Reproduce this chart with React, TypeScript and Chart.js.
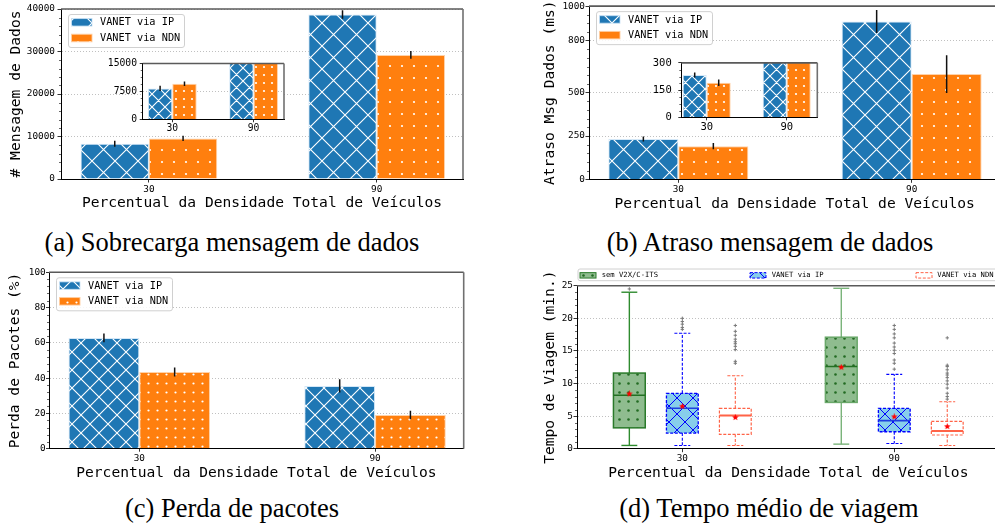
import React, { useEffect, useRef } from 'react';
import { Chart, registerables } from 'chart.js';
Chart.register(...registerables);

const MONO = '"DejaVu Sans Mono", monospace';

// ---------- data ----------
const categories = ['30', '90'];
const seriesNames = ['VANET via IP', 'VANET via NDN'];

// (a) Sobrecarga mensagem de dados
const msgIP = [8300, 38700];
const msgIPErr = [700, 1000];
const msgNDN = [9550, 29200];
const msgNDNErr = [600, 900];
const msgTicks = [0, 10000, 20000, 30000, 40000];
const msgInsetTicks = [0, 7500, 15000];

// (b) Atraso mensagem de dados
const delayIP = [233, 911];
const delayIPErr = [14, 66];
const delayNDN = [191, 608];
const delayNDNErr = [18, 109];
const delayTicks = [0, 250, 500, 800, 1000];
const delayInsetTicks = [0, 150, 300];

// (c) Perda de pacotes
const lossIP = [62.8, 35.6];
const lossIPErr = [2.5, 3.7];
const lossNDN = [43.5, 19.1];
const lossNDNErr = [2.5, 2.4];
const lossTicks = [0, 20, 40, 60, 80, 100];

// (d) Tempo médio de viagem  — [lower whisker, Q1, median, Q3, upper whisker] per category
const tripSeries = ['sem V2X/C-ITS', 'VANET via IP', 'VANET via NDN'];
const tripTicks = [0, 5, 10, 15, 20, 25];
const semBox = [[0.5, 3.2, 8.2, 11.6, 24.0], [0.7, 7.1, 12.6, 17.1, 24.6]];
const ipBox = [[0.5, 2.4, 6.2, 8.5, 17.7], [0.8, 2.6, 4.3, 6.2, 11.4]];
const ndnBox = [[0.5, 2.2, 5.1, 6.2, 11.2], [0.5, 2.1, 2.7, 4.2, 7.2]];
const semMean = [8.4, 12.5];
const ipMean = [6.5, 4.9];
const ndnMean = [4.8, 3.4];
const semOut = [[24.5], []];
const ipOut = [[18.3, 18.6, 19.1, 19.5, 20.0], [12.2, 13.1, 13.6, 14.6, 15.1, 15.6, 16.2, 17.0, 17.6, 18.3, 18.9]];
const ndnOut = [[13.1, 13.4, 15.2, 15.7, 16.1, 16.4, 16.8, 17.4, 18.0, 18.9], [7.6, 8.0, 8.5, 9.3, 9.9, 10.4, 10.9, 11.3, 11.6, 12.1, 12.6, 12.8, 17.0]];

// ---------- helpers ----------
function hatchX(bg: string, fg: string, p: number, lw: number): CanvasPattern {
  const t = document.createElement('canvas');
  t.width = p; t.height = p;
  const c = t.getContext('2d')!;
  c.fillStyle = bg; c.fillRect(0, 0, p, p);
  c.strokeStyle = fg; c.lineWidth = lw;
  c.beginPath();
  for (const dx of [-p, 0, p]) {
    c.moveTo(dx, 0); c.lineTo(dx + p, p);
    c.moveTo(dx + p, 0); c.lineTo(dx, p);
  }
  c.stroke();
  return c.createPattern(t, 'repeat')!;
}

function dotPattern(bg: string, fg: string, s: number, r: number): CanvasPattern {
  const t = document.createElement('canvas');
  t.width = s; t.height = s;
  const c = t.getContext('2d')!;
  c.fillStyle = bg; c.fillRect(0, 0, s, s);
  c.fillStyle = fg;
  c.beginPath(); c.arc(s / 2, s / 2, r, 0, Math.PI * 2); c.fill();
  return c.createPattern(t, 'repeat')!;
}

function starImage(size: number, color: string): HTMLCanvasElement {
  const t = document.createElement('canvas');
  t.width = size; t.height = size;
  const c = t.getContext('2d')!;
  c.fillStyle = color; c.beginPath();
  const cx = size / 2, cy = size / 2, R = size / 2, r = R * 0.45;
  for (let k = 0; k < 10; k++) {
    const a = -Math.PI / 2 + (k * Math.PI) / 5;
    const rad = k % 2 === 0 ? R : r;
    const x = cx + rad * Math.cos(a), y = cy + rad * Math.sin(a);
    if (k) c.lineTo(x, y); else c.moveTo(x, y);
  }
  c.closePath(); c.fill();
  return t;
}

function roundRectPath(c: CanvasRenderingContext2D, x: number, y: number, w: number, h: number, r: number) {
  c.beginPath();
  c.moveTo(x + r, y); c.lineTo(x + w - r, y); c.quadraticCurveTo(x + w, y, x + w, y + r);
  c.lineTo(x + w, y + h - r); c.quadraticCurveTo(x + w, y + h, x + w - r, y + h);
  c.lineTo(x + r, y + h); c.quadraticCurveTo(x, y + h, x, y + h - r);
  c.lineTo(x, y + r); c.quadraticCurveTo(x, y, x + r, y); c.closePath();
}

interface AxisSpec {
  xMin: number; xMax: number; yMax: number; yTicks: number[]; minor: number;
  yAxisW: number; xAxisH: number; padTop: number; padRight: number;
  tickSize: number; tickLen: number; yTickPad: number; xTickPad: number;
  yTitle?: string; yTitlePad?: number; xTitle?: string; xTitlePad?: number;
}

function scalesFor(s: AxisSpec): any {
  const tf = { family: MONO, size: s.tickSize };
  const tt = { family: MONO, size: 14.6 };
  return {
    x: {
      type: 'linear', min: s.xMin, max: s.xMax, offset: false, bounds: 'data',
      afterBuildTicks: (ax: any) => { ax.ticks = categories.map((_, i) => ({ value: i })); },
      afterFit: (ax: any) => { ax.height = s.xAxisH; },
      ticks: { font: tf, color: '#000', padding: s.xTickPad, maxRotation: 0, autoSkip: false, callback: (v: any) => categories[v] ?? '' },
      grid: { offset: false, drawOnChartArea: false, drawTicks: true, tickLength: s.tickLen, tickColor: '#000', tickWidth: 0.8 },
      border: { color: '#000', width: 1 },
      title: { display: !!s.xTitle, text: s.xTitle || '', font: tt, color: '#000', padding: { top: s.xTitlePad || 0, bottom: s.xTitlePad || 0 } },
    },
    y: {
      type: 'linear', min: 0, max: s.yMax,
      afterBuildTicks: (ax: any) => { ax.ticks = s.yTicks.map((v) => ({ value: v })); },
      afterFit: (ax: any) => { ax.width = s.yAxisW; },
      ticks: { font: tf, color: '#000', padding: s.yTickPad, autoSkip: false, callback: (v: any) => String(v) },
      grid: { color: '#b0b0b0', lineWidth: 0.8, drawTicks: true, tickLength: s.tickLen, tickColor: '#000', tickWidth: 0.8 },
      border: { color: '#000', width: 1, dash: [1, 2] },
      title: { display: !!s.yTitle, text: s.yTitle || '', font: tt, color: '#000', padding: { top: s.yTitlePad || 0, bottom: s.yTitlePad || 0 } },
    },
  };
}

function frameDeco(chart: any, s: AxisSpec) {
  const c = chart.ctx as CanvasRenderingContext2D;
  const a = chart.chartArea;
  const ys = chart.scales.y;
  c.save();
  c.strokeStyle = '#000'; c.lineWidth = 0.6;
  for (let v = 0; v <= s.yMax + 1e-9; v += s.minor) {
    if (s.yTicks.some((t) => Math.abs(t - v) < 1e-6)) continue;
    const y = Math.round(ys.getPixelForValue(v)) + 0.5;
    c.beginPath(); c.moveTo(a.left - 2, y); c.lineTo(a.left, y); c.stroke();
  }
  c.strokeStyle = '#5a5a5a'; c.lineWidth = 1.6;
  c.beginPath(); c.moveTo(a.left, a.top); c.lineTo(a.right, a.top); c.stroke();
  c.strokeStyle = '#707070';
  c.beginPath(); c.moveTo(a.right, a.top); c.lineTo(a.right, a.bottom); c.stroke();
  c.restore();
}

interface BarSpec extends AxisSpec {
  ip: number[]; ipErr: number[]; ndn: number[]; ndnErr: number[];
  hatch: number; dot: number; legend: boolean; inset: boolean;
}

function barChart(canvas: HTMLCanvasElement, s: BarSpec): Chart {
  const ipFill = hatchX('#1f77b4', '#ffffff', s.hatch, 1.1);
  const ndnFill = dotPattern('#ff7f0e', '#ffffff', s.dot, 1.1);
  const vals = [s.ip, s.ndn];
  const errs = [s.ipErr, s.ndnErr];
  const fills = [ipFill, ndnFill];
  const edges = ['rgba(200,225,245,0.8)', 'rgba(255,205,160,0.9)'];
  const plugin = {
    id: 'deco',
    beforeDraw(chart: any) {
      if (!s.inset) return;
      const a = chart.chartArea;
      chart.ctx.save(); chart.ctx.fillStyle = '#fff';
      chart.ctx.fillRect(a.left, a.top, a.right - a.left, a.bottom - a.top);
      chart.ctx.restore();
    },
    afterDatasetsDraw(chart: any) {
      const c = chart.ctx as CanvasRenderingContext2D;
      const a = chart.chartArea, ys = chart.scales.y;
      c.save();
      c.beginPath(); c.rect(a.left, a.top, a.right - a.left, a.bottom - a.top); c.clip();
      c.strokeStyle = '#111'; c.lineWidth = 1.5;
      [0, 1].forEach((di) => {
        chart.getDatasetMeta(di).data.forEach((el: any, i: number) => {
          const v = vals[di][i], e = errs[di][i];
          c.beginPath(); c.moveTo(el.x, ys.getPixelForValue(v - e)); c.lineTo(el.x, ys.getPixelForValue(v + e)); c.stroke();
        });
      });
      c.restore();
    },
    afterDraw(chart: any) {
      frameDeco(chart, s);
      if (!s.legend) return;
      const c = chart.ctx as CanvasRenderingContext2D;
      const a = chart.chartArea;
      const bx = a.left + 7, by = a.top + 5, bw = 116, bh = 33;
      c.save();
      roundRectPath(c, bx + 0.5, by + 0.5, bw, bh, 2.5);
      c.fillStyle = 'rgba(255,255,255,0.85)'; c.fill();
      c.strokeStyle = '#d0d0d0'; c.lineWidth = 1; c.stroke();
      c.font = `10.25px ${MONO}`; c.textBaseline = 'middle'; c.textAlign = 'left';
      [8.3, 24].forEach((dy, i) => {
        const cy = by + dy;
        c.fillStyle = fills[i]; c.fillRect(bx + 3.5, cy - 3.75, 20.5, 7.5);
        c.strokeStyle = edges[i]; c.lineWidth = 1; c.strokeRect(bx + 3.5, cy - 3.75, 20.5, 7.5);
        c.fillStyle = '#000'; c.fillText(seriesNames[i], bx + 32, cy + 0.5);
      });
      c.restore();
    },
  };
  return new Chart(canvas, {
    type: 'bar',
    data: {
      datasets: [0, 1].map((di) => ({
        label: seriesNames[di],
        data: categories.map((_, i) => ({ x: i, y: vals[di][i] })),
        backgroundColor: fills[di],
        borderColor: edges[di],
        borderWidth: 1,
        categoryPercentage: 0.6,
        barPercentage: 1.0,
      })) as any,
    },
    options: {
      animation: false, responsive: false, maintainAspectRatio: false, devicePixelRatio: 1, events: [],
      layout: { padding: { left: 0, top: s.padTop, right: s.padRight, bottom: 0 } },
      plugins: { legend: { display: false }, tooltip: { enabled: false }, title: { display: false } },
      scales: scalesFor(s),
    } as any,
    plugins: [plugin],
  });
}

const boxStyles = [
  { fill: () => dotPattern('#8fbc8f', '#236b23', 9, 1.3), edge: ['#2a7a2a', '#6aa86a'], edgeW: 1.5, dash: [] as number[], median: '#237023', medianW: 1.5, whisker: ['#2e8b2e', '#79b379'], whiskerW: 1.4 },
  { fill: () => hatchX('#87ceeb', '#0000ff', 16, 1), edge: ['#0000ff', '#0000ff'], edgeW: 1.3, dash: [3, 1.6], median: '#1f3fe0', medianW: 1.6, whisker: ['#0000ff', '#0000ff'], whiskerW: 1.1 },
  { fill: () => '#ffffff', edge: ['#ff6347', '#ff6347'], edgeW: 1.2, dash: [3, 1.6], median: '#ff6347', medianW: 2, whisker: ['#ff6347', '#ff6347'], whiskerW: 1.1 },
];
const boxOffsets = [-0.25, 0, 0.25];
const boxWidth = 0.15;

function boxChart(canvas: HTMLCanvasElement): Chart {
  const s: AxisSpec = {
    xMin: -0.497, xMax: 1.497, yMax: 25, yTicks: tripTicks, minor: 1,
    yAxisW: 52, xAxisH: 35.3, padTop: 23.7, padRight: 10.4,
    tickSize: 9.4, tickLen: 3.5, yTickPad: 0.5, xTickPad: 1,
    yTitle: 'Tempo de Viagem (min.)', yTitlePad: 16.2,
    xTitle: 'Percentual da Densidade Total de Veículos', xTitlePad: 2.2,
  };
  const stats = [semBox, ipBox, ndnBox];
  const means = [semMean, ipMean, ndnMean];
  const outs = [semOut, ipOut, ndnOut];
  const fills = boxStyles.map((b) => b.fill());
  const outlierData: { x: number; y: number }[] = [];
  outs.forEach((o, si) => o.forEach((list, ci) => list.forEach((v) => outlierData.push({ x: ci + boxOffsets[si], y: v }))));
  const meanData: { x: number; y: number }[] = [];
  means.forEach((m, si) => m.forEach((v, ci) => meanData.push({ x: ci + boxOffsets[si], y: v })));

  const plugin = {
    id: 'boxes',
    beforeDatasetsDraw(chart: any) {
      const c = chart.ctx as CanvasRenderingContext2D;
      const xs = chart.scales.x, ys = chart.scales.y;
      const Y = (v: number) => ys.getPixelForValue(v);
      const line = (x1: number, y1: number, x2: number, y2: number) => { c.beginPath(); c.moveTo(x1, y1); c.lineTo(x2, y2); c.stroke(); };
      stats.forEach((ser, si) => {
        const st = boxStyles[si];
        ser.forEach((q, ci) => {
          const [lo, q1, med, q3, hi] = q;
          const xc = xs.getPixelForValue(ci + boxOffsets[si]);
          const hw = xs.getPixelForValue(boxWidth / 2) - xs.getPixelForValue(0);
          const cw = hw * 0.5;
          c.save();
          c.strokeStyle = st.whisker[ci]; c.lineWidth = st.whiskerW; c.setLineDash(st.dash);
          line(xc, Y(q3), xc, Y(hi)); line(xc, Y(q1), xc, Y(lo));
          line(xc - cw, Y(hi), xc + cw, Y(hi)); line(xc - cw, Y(lo), xc + cw, Y(lo));
          c.setLineDash([]);
          c.fillStyle = fills[si];
          c.fillRect(xc - hw, Y(q3), 2 * hw, Y(q1) - Y(q3));
          c.strokeStyle = st.edge[ci]; c.lineWidth = st.edgeW; c.setLineDash(st.dash);
          c.strokeRect(xc - hw, Y(q3), 2 * hw, Y(q1) - Y(q3));
          c.setLineDash([]);
          c.strokeStyle = st.median; c.lineWidth = st.medianW;
          line(xc - hw, Y(med), xc + hw, Y(med));
          c.restore();
        });
      });
    },
    afterDraw(chart: any) {
      frameDeco(chart, s);
      const c = chart.ctx as CanvasRenderingContext2D;
      const a = chart.chartArea;
      const by = a.top - 16.7, bh = 11.7;
      c.save();
      roundRectPath(c, a.left + 1, by, a.right - a.left - 1, bh, 2);
      c.fillStyle = 'rgba(255,255,255,0.9)'; c.fill();
      c.strokeStyle = '#d0d0d0'; c.lineWidth = 1; c.stroke();
      c.font = `7.2px ${MONO}`; c.textBaseline = 'middle'; c.textAlign = 'left';
      const sx = [3, 173, 339], tx = [24.7, 194.7, 360.3];
      const cy = by + bh / 2 + 0.5;
      tripSeries.forEach((name, i) => {
        const st = boxStyles[i];
        const x = a.left + sx[i];
        c.fillStyle = fills[i]; c.fillRect(x, cy - 2.7, 16, 5.4);
        c.strokeStyle = st.edge[0]; c.lineWidth = 1; c.setLineDash(st.dash);
        c.strokeRect(x, cy - 2.7, 16, 5.4);
        c.setLineDash([]);
        c.fillStyle = '#000'; c.fillText(name, a.left + tx[i], cy);
      });
      c.restore();
    },
  };

  return new Chart(canvas, {
    type: 'scatter',
    data: {
      datasets: [
        { label: 'outliers', data: outlierData, pointStyle: 'cross', radius: 1.7, borderColor: '#7a7a7a', borderWidth: 1, backgroundColor: '#7a7a7a' },
        { label: 'means', data: meanData, pointStyle: starImage(7, '#ff0000'), radius: 3.5 },
      ] as any,
    },
    options: {
      animation: false, responsive: false, maintainAspectRatio: false, devicePixelRatio: 1, events: [],
      layout: { padding: { left: 0, top: s.padTop, right: s.padRight, bottom: 0 } },
      plugins: { legend: { display: false }, tooltip: { enabled: false } },
      scales: scalesFor(s),
    } as any,
    plugins: [plugin],
  });
}

const specA: BarSpec = {
  ip: msgIP, ipErr: msgIPErr, ndn: msgNDN, ndnErr: msgNDNErr,
  xMin: -0.386, xMax: 1.379, yMax: 40000, yTicks: msgTicks, minor: 2000,
  yAxisW: 61, xAxisH: 36, padTop: 9, padRight: 7,
  tickSize: 9.4, tickLen: 3.5, yTickPad: 2.5, xTickPad: 1,
  yTitle: '# Mensagem de Dados', yTitlePad: 7.7,
  xTitle: 'Percentual da Densidade Total de Veículos', xTitlePad: 3.2,
  hatch: 23, dot: 12, legend: true, inset: false,
};
const specAInset: BarSpec = {
  ip: msgIP, ipErr: msgIPErr, ndn: msgNDN, ndnErr: msgNDNErr,
  xMin: -0.364, xMax: 1.374, yMax: 15000, yTicks: msgInsetTicks, minor: 1875,
  yAxisW: 42.7, xAxisH: 15.7, padTop: 7.7, padRight: 6,
  tickSize: 9.7, tickLen: 3, yTickPad: 2.7, xTickPad: 0.2,
  hatch: 13, dot: 8, legend: false, inset: true,
};
const specB: BarSpec = {
  ip: delayIP, ipErr: delayIPErr, ndn: delayNDN, ndnErr: delayNDNErr,
  xMin: -0.383, xMax: 1.38, yMax: 1000, yTicks: delayTicks, minor: 50,
  yAxisW: 69, xAxisH: 35.7, padTop: 3.3, padRight: 9.7,
  tickSize: 9.4, tickLen: 3.5, yTickPad: 0.5, xTickPad: 1,
  yTitle: 'Atraso Msg Dados (ms)', yTitlePad: 21.2,
  xTitle: 'Percentual da Densidade Total de Veículos', xTitlePad: 2.2,
  hatch: 23, dot: 12, legend: true, inset: false,
};
const specBInset: BarSpec = {
  ip: delayIP, ipErr: delayIPErr, ndn: delayNDN, ndnErr: delayNDNErr,
  xMin: -0.3175, xMax: 1.3825, yMax: 300, yTicks: delayInsetTicks, minor: 37.5,
  yAxisW: 41.3, xAxisH: 17.7, padTop: 9.3, padRight: 7.7,
  tickSize: 10.5, tickLen: 3, yTickPad: 6.6, xTickPad: 0.7,
  hatch: 13, dot: 8, legend: false, inset: true,
};
const specC: BarSpec = {
  ip: lossIP, ipErr: lossIPErr, ndn: lossNDN, ndnErr: lossNDNErr,
  xMin: -0.383, xMax: 1.376, yMax: 100, yTicks: lossTicks, minor: 4,
  yAxisW: 49, xAxisH: 35.3, padTop: 10.3, padRight: 11.3,
  tickSize: 9.4, tickLen: 3, yTickPad: 0.3, xTickPad: 1,
  yTitle: 'Perda de Pacotes (%)', yTitlePad: 6.2,
  xTitle: 'Percentual da Densidade Total de Veículos', xTitlePad: 2.2,
  hatch: 18, dot: 9, legend: true, inset: false,
};

const captionStyle = (left: number, top: number, width: number): React.CSSProperties => ({
  position: 'absolute', left, top, width, textAlign: 'center',
  fontFamily: '"Liberation Serif", "Times New Roman", serif', fontSize: 26.5, lineHeight: '30px', color: '#000', whiteSpace: 'nowrap',
});

export default function App() {
  const rA = useRef<HTMLCanvasElement>(null);
  const rAi = useRef<HTMLCanvasElement>(null);
  const rB = useRef<HTMLCanvasElement>(null);
  const rBi = useRef<HTMLCanvasElement>(null);
  const rC = useRef<HTMLCanvasElement>(null);
  const rD = useRef<HTMLCanvasElement>(null);

  useEffect(() => {
    const charts = [
      barChart(rA.current!, specA),
      barChart(rAi.current!, specAInset),
      barChart(rB.current!, specB),
      barChart(rBi.current!, specBInset),
      barChart(rC.current!, specC),
      boxChart(rD.current!),
    ];
    return () => charts.forEach((c) => c.destroy());
  }, []);

  const cv = (left: number, top: number): React.CSSProperties => ({ position: 'absolute', left, top });

  return (
    <div style={{ position: 'absolute', left: 0, top: 0, width: 995, height: 530, overflow: 'hidden', background: '#fff' }}>
      <canvas ref={rA} width={470} height={215} style={cv(0, 0)} />
      <canvas ref={rAi} width={190} height={80} style={cv(100, 55)} />
      <canvas ref={rB} width={490} height={215} style={cv(520, 0)} />
      <canvas ref={rBi} width={185} height={85} style={cv(640, 50)} />
      <canvas ref={rC} width={475} height={222} style={cv(0, 262)} />
      <canvas ref={rD} width={485} height={222} style={cv(525, 262)} />
      <div style={captionStyle(0, 227, 464)}>(a) Sobrecarga mensagem de dados</div>
      <div style={captionStyle(545, 227, 450)}>(b) Atraso mensagem de dados</div>
      <div style={captionStyle(0, 493, 464)}>(c) Perda de pacotes</div>
      <div style={captionStyle(544, 493, 450)}>(d) Tempo médio de viagem</div>
    </div>
  );
}
